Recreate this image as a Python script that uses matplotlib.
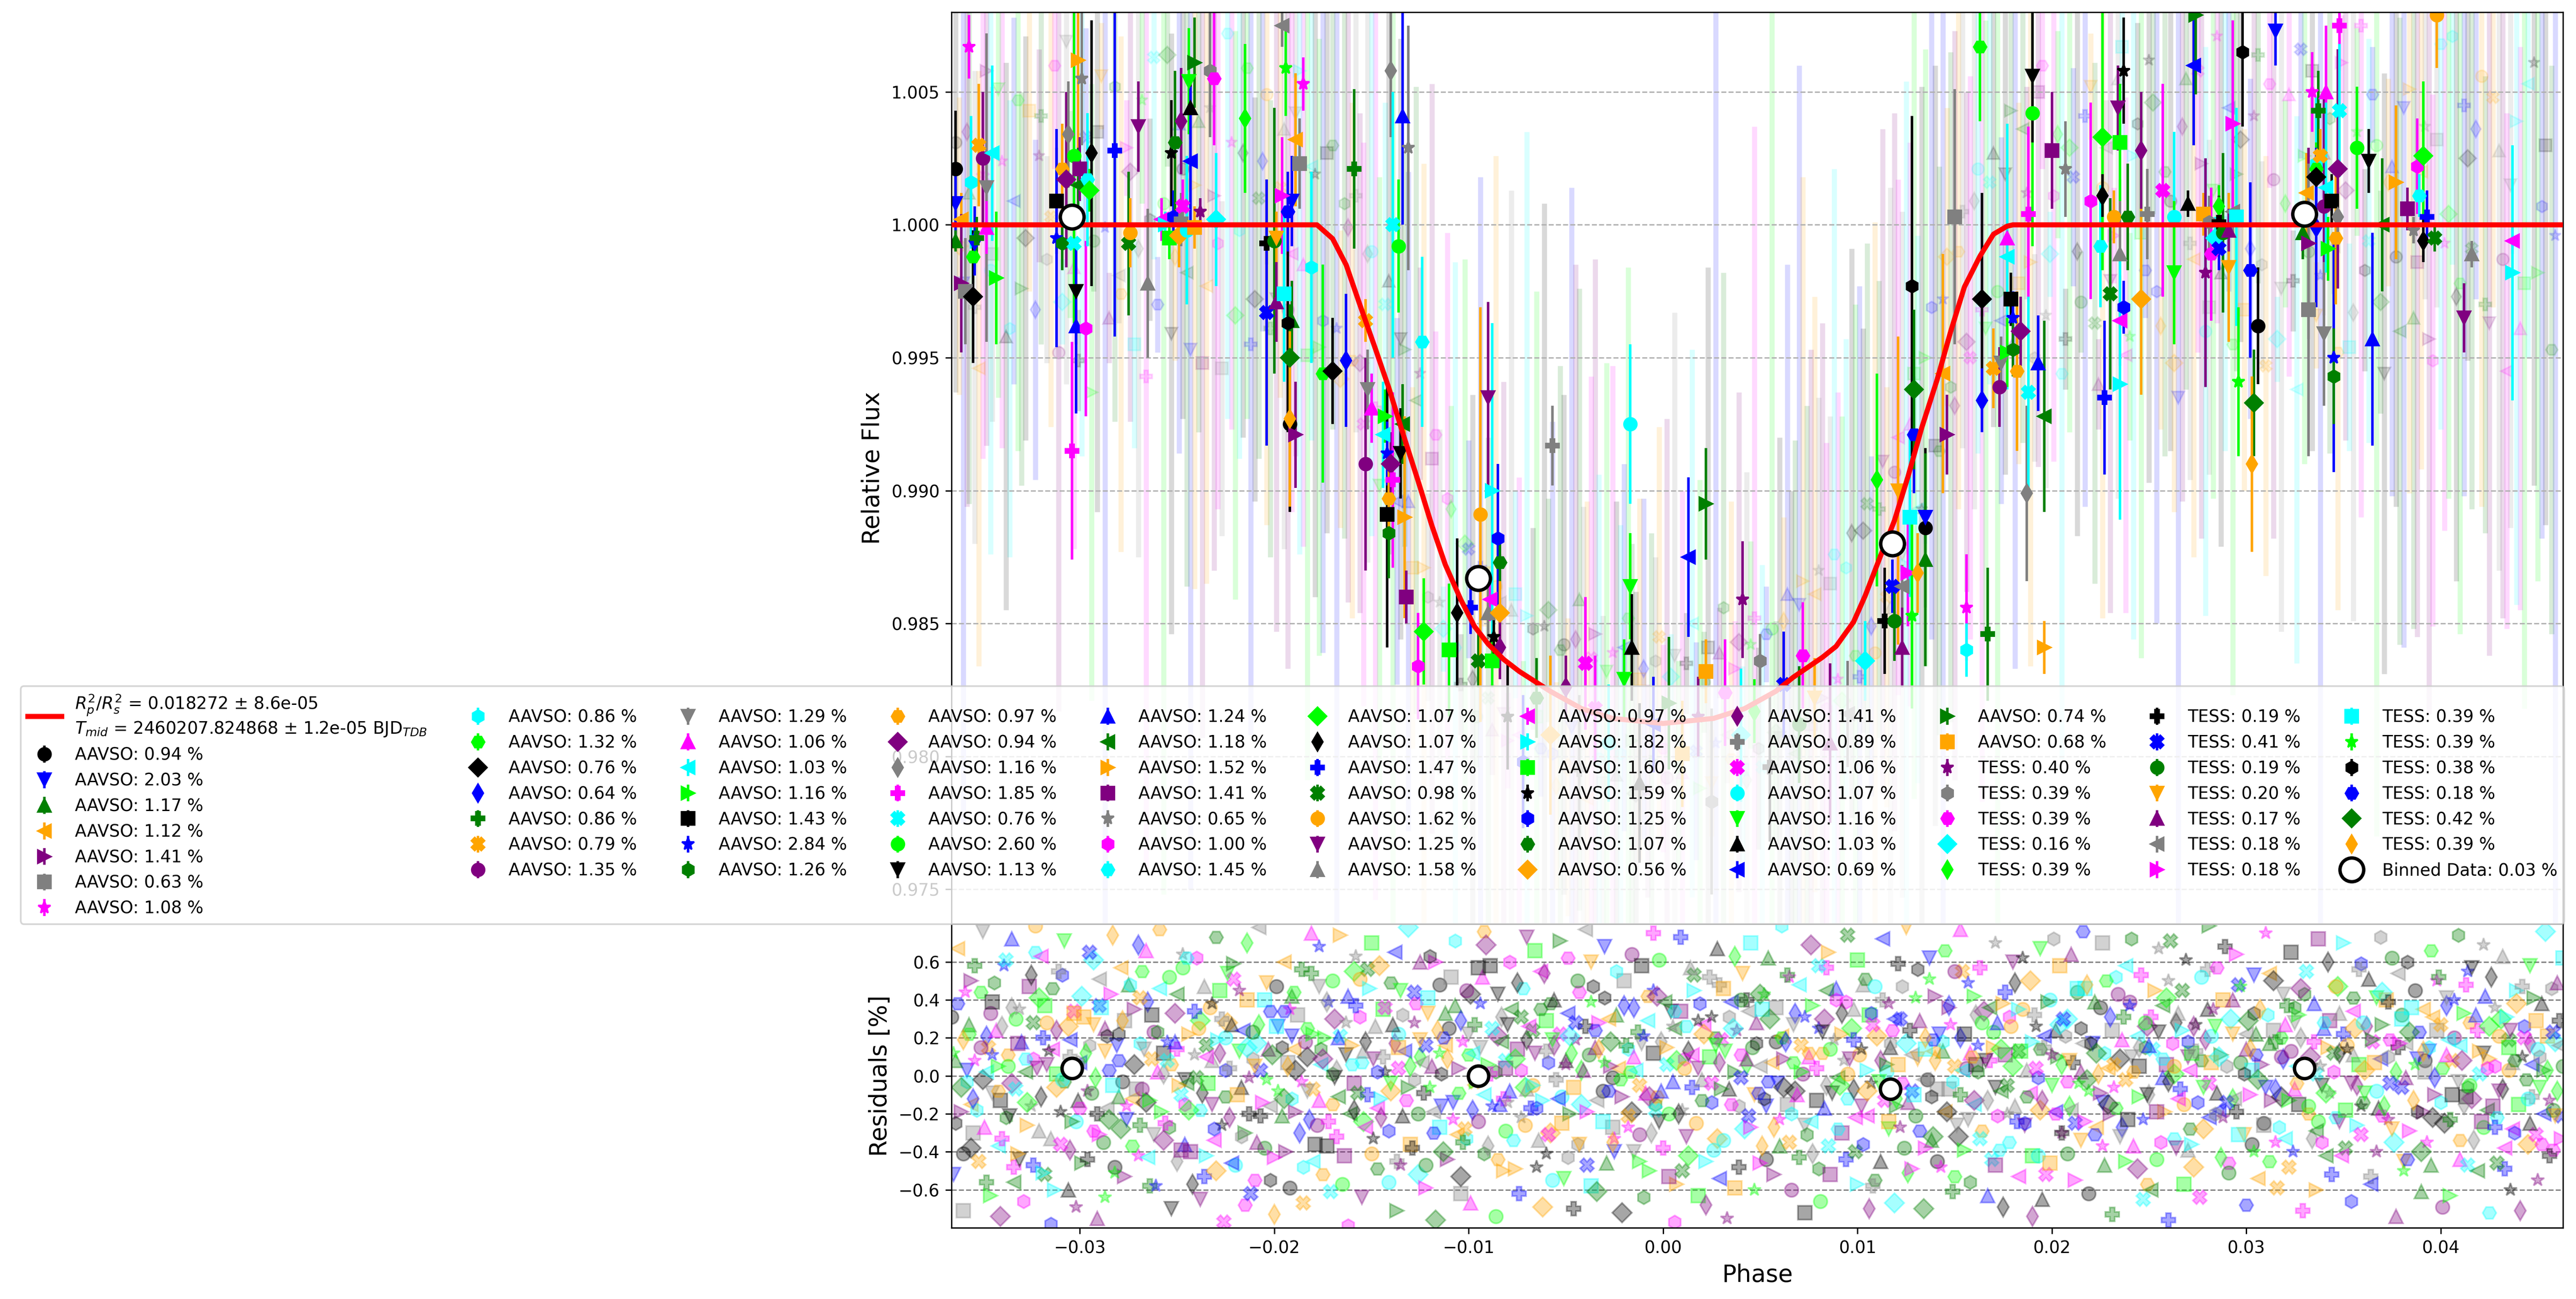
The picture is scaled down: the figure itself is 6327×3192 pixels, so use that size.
import numpy as np
import matplotlib
matplotlib.use("Agg")
import matplotlib.pyplot as plt

# transit model
model_phase = [-0.0366, -0.0178, -0.0170, -0.0163, -0.0156, -0.0148, -0.0141, -0.0134, -0.0126, -0.0119,
               -0.0112, -0.0104, -0.0097, -0.0090, -0.0082, -0.0074, -0.0058, -0.0042, -0.0026, 0.0,
               0.0026, 0.0042, 0.0058, 0.0067, 0.0082, 0.0089, 0.0098, 0.0104, 0.0111, 0.0119,
               0.0126, 0.0133, 0.0141, 0.0148, 0.0155, 0.0163, 0.0170, 0.0177, 0.0180, 0.0463]
model_flux = [1.0, 1.0, 0.99948, 0.99849, 0.99700, 0.99534, 0.99385, 0.99219, 0.99036, 0.98870,
              0.98721, 0.98589, 0.98489, 0.98423, 0.98365, 0.98320, 0.98245, 0.98180, 0.98143, 0.98124,
              0.98143, 0.98180, 0.98245, 0.98298, 0.98373, 0.98414, 0.98506, 0.98605, 0.98738, 0.98887,
              0.99053, 0.99235, 0.99418, 0.99600, 0.99766, 0.99882, 0.99965, 0.99995, 1.0, 1.0]
model_label = ("$R_{p}^{2}/R_{s}^{2}$ = 0.018272 ± 8.6e-05\n"
               "$T_{mid}$ = 2460207.824868 ± 1.2e-05 BJD$_{TDB}$")

# binned data of all observations
bin_phase = [-0.0304, -0.0095, 0.0118, 0.0330]
bin_flux = [1.0003, 0.9867, 0.9880, 1.0004]
bin_res_phase = [-0.0304, -0.0095, 0.0117, 0.0330]
bin_res = [0.04, 0.00, -0.07, 0.04]
bin_label = "Binned Data: 0.03 %"

# one entry per observation, legend order
sources = ["AAVSO"] * 58 + ["TESS"] * 18
scatter_pct = [0.94, 2.03, 1.17, 1.12, 1.41, 0.63, 1.08,
               0.86, 1.32, 0.76, 0.64, 0.86, 0.79, 1.35,
               1.29, 1.06, 1.03, 1.16, 1.43, 2.84, 1.26,
               0.97, 0.94, 1.16, 1.85, 0.76, 2.60, 1.13,
               1.24, 1.18, 1.52, 1.41, 0.65, 1.00, 1.45,
               1.07, 1.07, 1.47, 0.98, 1.62, 1.25, 1.58,
               0.97, 1.82, 1.60, 1.59, 1.25, 1.07, 0.56,
               1.41, 0.89, 1.06, 1.07, 1.16, 1.03, 0.69,
               0.74, 0.68, 0.40, 0.39, 0.39, 0.16, 0.39,
               0.19, 0.41, 0.19, 0.20, 0.17, 0.18, 0.18,
               0.39, 0.39, 0.38, 0.18, 0.42, 0.39]

# binned points of the single observations (bold markers)
obs_phase = [
    -0.0364, -0.0364, -0.0364, -0.0361, -0.0361, -0.0359, -0.0357, -0.0356, -0.0355, -0.0355,
    -0.0354, -0.0353, -0.0352, -0.0350, -0.0348, -0.0348, -0.0345, -0.0343, -0.0312, -0.0312,
    -0.0309, -0.0309, -0.0307, -0.0306, -0.0304, -0.0303, -0.0303, -0.0302, -0.0302, -0.0301,
    -0.0301, -0.0300, -0.0299, -0.0297, -0.0296, -0.0295, -0.0294, -0.0282, -0.0275, -0.0274,
    -0.0270, -0.0265, -0.0258, -0.0256, -0.0254, -0.0253, -0.0252, -0.0251, -0.0249, -0.0248,
    -0.0248, -0.0247, -0.0245, -0.0244, -0.0243, -0.0243, -0.0241, -0.0241, -0.0238, -0.0233,
    -0.0231, -0.0230, -0.0215, -0.0204, -0.0204, -0.0200, -0.0199, -0.0199, -0.0196, -0.0196,
    -0.0195, -0.0194, -0.0193, -0.0193, -0.0192, -0.0192, -0.0192, -0.0191, -0.0191, -0.0189,
    -0.0189, -0.0187,
    -0.0185, -0.0181, -0.0175, -0.0170, -0.0163, -0.0159, -0.0153, -0.0153, -0.0152, -0.0150,
    -0.0144, -0.0143, -0.0142, -0.0142, -0.0141, -0.0141, -0.0140, -0.0140, -0.0139, -0.0139,
    -0.0136, -0.0135, -0.0134, -0.0134, -0.0133, -0.0132, -0.0131, -0.0126, -0.0124, -0.0123,
    -0.0106, -0.0099, -0.0095, -0.0094, -0.0090, -0.0090, -0.0089, -0.0088, -0.0088, -0.0087,
    -0.0085, -0.0084, -0.0084, -0.0084, -0.0057, -0.0040, -0.0017, -0.0017, -0.0016, 0.0013,
    0.0022, 0.0022, 0.0041,
    0.0050, 0.0072, 0.0104, 0.0110, 0.0114, 0.0118, 0.0119, 0.0121, 0.0123, 0.0123,
    0.0126, 0.0127, 0.0128, 0.0128, 0.0129, 0.0129, 0.0131, 0.0135, 0.0135, 0.0135,
    0.0144, 0.0146, 0.0150, 0.0156, 0.0156, 0.0163, 0.0164, 0.0164, 0.0167, 0.0170,
    0.0173, 0.0174, 0.0177, 0.0177, 0.0177, 0.0179, 0.0180, 0.0180, 0.0182, 0.0184,
    0.0187, 0.0188, 0.0188, 0.0190, 0.0190, 0.0193, 0.0196, 0.0196, 0.0200, 0.0207,
    0.0220, 0.0225, 0.0226, 0.0226, 0.0227, 0.0230, 0.0232, 0.0234, 0.0235, 0.0235,
    0.0235, 0.0235, 0.0237, 0.0237, 0.0239, 0.0246, 0.0246, 0.0249, 0.0257, 0.0263,
    0.0263, 0.0270, 0.0273,
    0.0274, 0.0278, 0.0279, 0.0281, 0.0282, 0.0284, 0.0286, 0.0286, 0.0286, 0.0288,
    0.0291, 0.0291, 0.0293, 0.0293, 0.0295, 0.0296, 0.0298, 0.0302, 0.0304, 0.0303,
    0.0306, 0.0315, 0.0329, 0.0331, 0.0332, 0.0332, 0.0334, 0.0336, 0.0336, 0.0336,
    0.0336, 0.0337, 0.0338, 0.0340, 0.0340, 0.0341, 0.0341, 0.0342, 0.0344, 0.0345,
    0.0345, 0.0346, 0.0347, 0.0347, 0.0348, 0.0348, 0.0357, 0.0363, 0.0365, 0.0370,
    0.0377, 0.0383, 0.0386, 0.0388, 0.0389, 0.0391, 0.0391, 0.0393, 0.0397, 0.0398,
    0.0412, 0.0416, 0.0437, 0.0437,
    -0.0110, -0.0080, -0.0072, -0.0065, -0.0058, -0.0050, -0.0043, -0.0035, -0.0028, -0.0020,
    -0.0012, -0.0005, 0.0003, 0.0010, 0.0018, 0.0025, 0.0032, 0.0040, 0.0047, 0.0055,
    0.0062, 0.0070, 0.0078, 0.0086, 0.0095,
]
obs_flux = [
    1.0021, 1.0008, 0.9994, 1.0002, 0.9978, 0.9975, 1.0067, 1.0016, 0.9988, 0.9973,
    0.9994, 0.9995, 1.0030, 1.0025, 1.0014, 0.9999, 1.0027, 0.9980, 1.0009, 0.9995,
    0.9993, 1.0021, 1.0017, 1.0034, 0.9915, 0.9993, 1.0026, 0.9975, 0.9962, 1.0015,
    1.0062, 1.0021, 1.0055, 0.9961, 1.0017, 1.0013, 1.0027, 1.0028, 0.9993, 0.9997,
    1.0037, 0.9978, 1.0002, 1.0000, 0.9995, 1.0027, 1.0003, 1.0031, 0.9996, 1.0039,
    1.0002, 1.0007, 0.9998, 1.0054, 1.0044, 1.0024, 1.0061, 0.9999, 1.0005, 1.0058,
    1.0055, 1.0002, 1.0040, 0.9993, 0.9967, 0.9994, 0.9995, 0.9971, 1.0075, 1.0011,
    0.9974, 1.0059, 0.9963, 1.0005, 0.9950, 0.9927, 0.9925, 1.0009, 0.9964, 1.0032,
    0.9921, 1.0023,
    1.0053, 0.9984, 0.9944, 0.9945, 0.9949, 1.0021, 0.9964, 0.9910, 0.9938, 0.9931,
    0.9921, 0.9928, 0.9891, 0.9914, 0.9884, 0.9897, 0.9910, 1.0058, 0.9904, 1.0000,
    0.9992, 0.9914, 1.0041, 0.9925, 0.9890, 0.9860, 1.0029, 0.9834, 0.9956, 0.9847,
    0.9854, 0.9856, 0.9836, 0.9891, 0.9935, 0.9854, 0.9859, 0.9900, 0.9836, 0.9845,
    0.9882, 0.9873, 0.9854, 0.9841, 0.9917, 0.9835, 0.9925, 0.9864, 0.9841, 0.9875,
    0.9895, 0.9832, 0.9859,
    0.9836, 0.9838, 0.9836, 0.9904, 0.9851, 0.9864, 0.9851, 0.9900, 0.9841, 0.9864,
    0.9869, 0.9890, 0.9853, 0.9977, 0.9921, 0.9938, 0.9869, 0.9886, 0.9890, 0.9874,
    0.9944, 0.9921, 1.0003, 0.9856, 0.9840, 1.0067, 0.9972, 0.9934, 0.9846, 0.9946,
    0.9939, 0.9948, 0.9995, 0.9988, 0.9952, 0.9972, 0.9965, 0.9953, 0.9945, 0.9960,
    0.9899, 1.0004, 0.9937, 1.0042, 1.0056, 0.9948, 0.9928, 0.9841, 1.0028, 1.0021,
    1.0009, 0.9992, 1.0033, 1.0011, 0.9935, 0.9974, 1.0003, 1.0044, 0.9989, 0.9964,
    0.9940, 1.0031, 1.0058, 0.9969, 1.0003, 0.9972, 1.0028, 1.0004, 1.0013, 1.0003,
    0.9982, 1.0008, 1.0060,
    1.0079, 1.0004, 0.9982, 1.0001, 0.9989, 0.9995, 1.0007, 1.0001, 0.9991, 0.9997,
    0.9984, 0.9998, 1.0005, 1.0038, 1.0003, 0.9941, 1.0065, 0.9983, 0.9933, 0.9910,
    0.9962, 1.0073, 0.9997, 1.0012, 0.9993, 0.9968, 1.0050, 1.0023, 1.0021, 1.0018,
    0.9999, 1.0043, 1.0026, 1.0007, 0.9959, 1.0050, 1.0014, 0.9991, 1.0009, 0.9950,
    0.9943, 0.9995, 1.0021, 1.0003, 1.0075, 1.0043, 1.0029, 1.0024, 0.9957, 1.0000,
    1.0016, 1.0006, 0.9998, 1.0022, 1.0011, 1.0026, 0.9994, 1.0003, 0.9995, 1.0079,
    0.9965, 0.9989, 0.9994, 0.9982,
    0.9840, 0.9815, 0.9798, 0.9822, 0.9808, 0.9826, 0.9795, 0.9818, 0.9805, 0.9829,
    0.9790, 0.9812, 0.9820, 0.9801, 0.9815, 0.9783, 0.9824, 0.9808, 0.9817, 0.9796,
    0.9827, 0.9812, 0.9822, 0.9805, 0.9816,
]
obs_err = [
    0.0022, 0.0015, 0.0004, 0.0010, 0.0026, 0.0020, 0.0012, 0.0025, 0.0010, 0.0025,
    0.0013, 0.0008, 0.0023, 0.0025, 0.0058, 0.0010, 0.0033, 0.0025, 0.0020, 0.0041,
    0.0010, 0.0017, 0.0033, 0.0020, 0.0041, 0.0033, 0.0063, 0.0020, 0.0033, 0.0015,
    0.0033, 0.0012, 0.0025, 0.0033, 0.0025, 0.0008, 0.0050, 0.0070, 0.0027, 0.0013,
    0.0017, 0.0028, 0.0008, 0.0005, 0.0008, 0.0020, 0.0010, 0.0027, 0.0012, 0.0020,
    0.0010, 0.0010, 0.0028, 0.0020, 0.0012, 0.0028, 0.0017, 0.0008, 0.0005, 0.0025,
    0.0025, 0.0025, 0.0028, 0.0008, 0.0050, 0.0050, 0.0010, 0.0015, 0.0008, 0.0022,
    0.0033, 0.0018, 0.0041, 0.0015, 0.0020, 0.0033, 0.0033, 0.0017, 0.0015, 0.0025,
    0.0020, 0.0017,
    0.0010, 0.0036, 0.0041, 0.0020, 0.0025, 0.0030, 0.0008, 0.0040, 0.0015, 0.0013,
    0.0020, 0.0010, 0.0050, 0.0012, 0.0017, 0.0015, 0.0012, 0.0025, 0.0033, 0.0050,
    0.0025, 0.0017, 0.0041, 0.0015, 0.0038, 0.0010, 0.0046, 0.0020, 0.0032, 0.0020,
    0.0028, 0.0010, 0.0010, 0.0078, 0.0036, 0.0010, 0.0008, 0.0063, 0.0010, 0.0010,
    0.0028, 0.0010, 0.0012, 0.0012, 0.0015, 0.0025, 0.0030, 0.0020, 0.0020, 0.0030,
    0.0021, 0.0012, 0.0022,
    0.0010, 0.0020, 0.0015, 0.0040, 0.0020, 0.0010, 0.0015, 0.0058, 0.0015, 0.0008,
    0.0020, 0.0030, 0.0035, 0.0064, 0.0022, 0.0030, 0.0015, 0.0030, 0.0010, 0.0040,
    0.0045, 0.0015, 0.0048, 0.0020, 0.0010, 0.0028, 0.0040, 0.0012, 0.0025, 0.0015,
    0.0015, 0.0010, 0.0025, 0.0050, 0.0013, 0.0010, 0.0010, 0.0010, 0.0030, 0.0013,
    0.0033, 0.0033, 0.0036, 0.0050, 0.0025, 0.0018, 0.0036, 0.0010, 0.0022, 0.0018,
    0.0037, 0.0023, 0.0050, 0.0008, 0.0029, 0.0036, 0.0010, 0.0016, 0.0028, 0.0017,
    0.0051, 0.0022, 0.0020, 0.0010, 0.0020, 0.0036, 0.0022, 0.0017, 0.0040, 0.0032,
    0.0027, 0.0005, 0.0030,
    0.0030, 0.0008, 0.0043, 0.0010, 0.0025, 0.0008, 0.0008, 0.0010, 0.0008, 0.0030,
    0.0028, 0.0008, 0.0008, 0.0039, 0.0041, 0.0028, 0.0028, 0.0033, 0.0020, 0.0033,
    0.0022, 0.0013, 0.0010, 0.0015, 0.0036, 0.0055, 0.0015, 0.0025, 0.0010, 0.0010,
    0.0030, 0.0015, 0.0010, 0.0041, 0.0027, 0.0025, 0.0032, 0.0012, 0.0010, 0.0043,
    0.0018, 0.0025, 0.0045, 0.0008, 0.0017, 0.0025, 0.0023, 0.0012, 0.0040, 0.0025,
    0.0029, 0.0008, 0.0005, 0.0018, 0.0008, 0.0028, 0.0008, 0.0010, 0.0005, 0.0020,
    0.0013, 0.0005, 0.0005, 0.0048,
    0.0025, 0.0020, 0.0025, 0.0015, 0.0030, 0.0012, 0.0028, 0.0020, 0.0022, 0.0015,
    0.0030, 0.0018, 0.0025, 0.0020, 0.0015, 0.0035, 0.0020, 0.0025, 0.0012, 0.0028,
    0.0020, 0.0022, 0.0015, 0.0030, 0.0020,
]

# raw detrended points (faint background)
raw_phase = [
    -0.0364, -0.0360, -0.0357, -0.0352, -0.0348, -0.0345, -0.0340, -0.0336, -0.0332, -0.0328,
    -0.0323, -0.0320, -0.0315, -0.0311, -0.0307, -0.0303, -0.0299, -0.0294, -0.0291, -0.0287,
    -0.0282, -0.0279, -0.0274, -0.0270, -0.0266, -0.0262, -0.0257, -0.0253, -0.0249, -0.0245,
    -0.0241, -0.0237, -0.0233, -0.0229, -0.0224, -0.0220, -0.0216, -0.0212, -0.0208, -0.0204,
    -0.0199, -0.0195, -0.0191, -0.0187, -0.0183, -0.0179, -0.0175, -0.0170, -0.0166, -0.0162,
    -0.0158, -0.0154, -0.0150, -0.0146, -0.0141, -0.0137, -0.0133, -0.0129, -0.0125, -0.0121,
    -0.0117, -0.0113, -0.0109, -0.0104, -0.0100, -0.0096, -0.0092, -0.0088, -0.0084, -0.0080,
    -0.0076, -0.0072, -0.0067, -0.0063, -0.0059, -0.0055, -0.0051, -0.0047, -0.0043, -0.0039,
    -0.0035, -0.0031, -0.0026, -0.0022, -0.0018, -0.0014, -0.0010, -0.0006, -0.0002, 0.0002,
    0.0006, 0.0010, 0.0015, 0.0019, 0.0023, 0.0027, 0.0031, 0.0035, 0.0039, 0.0043,
    0.0047, 0.0051, 0.0056, 0.0060, 0.0064, 0.0068, 0.0072, 0.0076, 0.0080, 0.0084,
    0.0088, 0.0092, 0.0097, 0.0101, 0.0105, 0.0109, 0.0113, 0.0117, 0.0121, 0.0125,
    0.0129, 0.0133, 0.0138, 0.0142, 0.0146, 0.0150, 0.0154, 0.0158, 0.0162, 0.0166,
    0.0170, 0.0174, 0.0179, 0.0183, 0.0187, 0.0191, 0.0195, 0.0199, 0.0203, 0.0207,
    0.0211, 0.0215, 0.0220, 0.0224, 0.0228, 0.0232, 0.0236, 0.0240, 0.0244, 0.0248,
    0.0252, 0.0256, 0.0261, 0.0265, 0.0269, 0.0273, 0.0277, 0.0281, 0.0285, 0.0289,
    0.0293, 0.0297, 0.0302, 0.0306, 0.0310, 0.0314, 0.0318, 0.0322, 0.0326, 0.0330,
    0.0334, 0.0338, 0.0343, 0.0347, 0.0351, 0.0355, 0.0359, 0.0363, 0.0367, 0.0371,
    0.0375, 0.0379, 0.0384, 0.0388, 0.0392, 0.0396, 0.0400, 0.0404, 0.0408, 0.0412,
    0.0416, 0.0421, 0.0425, 0.0430, 0.0434, 0.0439, 0.0443, 0.0448, 0.0452, 0.0457,
    -0.0362, -0.0358, -0.0354, -0.0350, -0.0346, -0.0342, -0.0338, -0.0334, -0.0330, -0.0326,
    -0.0321, -0.0317, -0.0313, -0.0309, -0.0305, -0.0301, -0.0297, -0.0293, -0.0289, -0.0285,
    -0.0280, -0.0276, -0.0272, -0.0268, -0.0264, -0.0260, -0.0255, -0.0251, -0.0247, -0.0243,
    -0.0239, -0.0235, -0.0231, -0.0227, -0.0222, -0.0218, -0.0214, -0.0210, -0.0206, -0.0202,
    -0.0197, -0.0193, -0.0189, -0.0185, -0.0181, -0.0177, -0.0173, -0.0168, -0.0164, -0.0160,
    -0.0156, -0.0152, -0.0148, -0.0143, -0.0139, -0.0135, -0.0131, -0.0127, -0.0123, -0.0119,
    -0.0115, -0.0111, -0.0107, -0.0102, -0.0098, -0.0094, -0.0090, -0.0086, -0.0082, -0.0078,
    -0.0074, -0.0070, -0.0065, -0.0061, -0.0057, -0.0053, -0.0049, -0.0045, -0.0041, -0.0037,
    -0.0033, -0.0029, -0.0024, -0.0020, -0.0016, -0.0012, -0.0008, -0.0004, 0.0000, 0.0004,
    0.0008, 0.0012, 0.0017, 0.0021, 0.0025, 0.0029, 0.0033, 0.0037, 0.0041, 0.0045,
    0.0049, 0.0053, 0.0058, 0.0062, 0.0066, 0.0070, 0.0074, 0.0078, 0.0082, 0.0086,
    0.0090, 0.0094, 0.0099, 0.0103, 0.0107, 0.0111, 0.0115, 0.0119, 0.0123, 0.0127,
    0.0131, 0.0135, 0.0140, 0.0144, 0.0148, 0.0152, 0.0156, 0.0160, 0.0164, 0.0168,
    0.0172, 0.0176, 0.0181, 0.0185, 0.0189, 0.0193, 0.0197, 0.0201, 0.0205, 0.0209,
    0.0213, 0.0217, 0.0222, 0.0226, 0.0230, 0.0234, 0.0238, 0.0242, 0.0246, 0.0250,
    0.0254, 0.0258, 0.0263, 0.0267, 0.0271, 0.0275, 0.0279, 0.0283, 0.0287, 0.0291,
    0.0295, 0.0299, 0.0304, 0.0308, 0.0312, 0.0316, 0.0320, 0.0324, 0.0328, 0.0332,
    0.0336, 0.0340, 0.0345, 0.0349, 0.0353, 0.0357, 0.0361, 0.0365, 0.0369, 0.0373,
    0.0377, 0.0381, 0.0386, 0.0390, 0.0394, 0.0398, 0.0402, 0.0406, 0.0410, 0.0414,
    0.0418, 0.0423, 0.0427, 0.0432, 0.0436, 0.0441, 0.0445, 0.0450, 0.0454, 0.0459,
]
raw_flux = [
    1.0031, 0.9978, 1.0012, 0.9946, 1.0058, 0.9989, 1.0024, 0.9961, 1.0047, 0.9995,
    0.9968, 1.0041, 1.0003, 0.9952, 1.0069, 0.9984, 1.0016, 0.9937, 1.0035, 0.9999,
    1.0052, 0.9974, 1.0020, 0.9991, 0.9943, 1.0063, 1.0008, 0.9959, 1.0038, 0.9982,
    1.0015, 0.9948, 1.0044, 0.9993, 1.0072, 0.9966, 1.0027, 0.9955, 1.0010, 1.0049,
    0.9972, 1.0036, 0.9989, 1.0058, 0.9951, 1.0019, 0.9964, 1.0030, 0.9942, 0.9999,
    1.0011, 0.9925, 0.9990, 0.9902, 0.9979, 0.9896, 0.9953, 0.9871, 0.9944, 0.9860,
    0.9921, 0.9848, 0.9893, 0.9827, 0.9878, 0.9815, 0.9869, 0.9810, 0.9858, 0.9806,
    0.9861, 0.9797, 0.9848, 0.9803, 0.9855, 0.9789, 0.9842, 0.9811, 0.9859, 0.9784,
    0.9846, 0.9790, 0.9839, 0.9801, 0.9852, 0.9786, 0.9833, 0.9798, 0.9845, 0.9792,
    0.9838, 0.9794, 0.9850, 0.9788, 0.9841, 0.9805, 0.9856, 0.9799, 0.9843, 0.9791,
    0.9852, 0.9796, 0.9848, 0.9807, 0.9861, 0.9801, 0.9866, 0.9812, 0.9870, 0.9818,
    0.9876, 0.9821, 0.9884, 0.9830, 0.9895, 0.9839, 0.9911, 0.9856, 0.9920, 0.9872,
    0.9944, 0.9893, 0.9969, 0.9915, 0.9988, 0.9932, 1.0005, 0.9950, 1.0021, 0.9961,
    1.0027, 0.9964, 1.0043, 0.9978, 1.0012, 0.9950, 1.0060, 0.9989, 1.0034, 0.9957,
    1.0018, 0.9971, 1.0052, 0.9940, 1.0029, 0.9996, 1.0067, 0.9958, 1.0038, 0.9983,
    1.0046, 0.9962, 1.0009, 0.9935, 1.0055, 0.9987, 1.0023, 0.9969, 1.0071, 1.0001,
    0.9955, 1.0032, 0.9991, 1.0064, 0.9947, 1.0017, 0.9976, 1.0049, 0.9938, 1.0026,
    1.0058, 0.9981, 1.0040, 0.9952, 1.0013, 0.9967, 1.0075, 0.9994, 1.0030, 0.9944,
    1.0022, 0.9960, 1.0051, 0.9986, 1.0037, 0.9949, 1.0068, 1.0004, 0.9973, 1.0045,
    0.9991, 1.0056, 0.9963, 1.0028, 0.9945, 1.0039, 0.9978, 1.0061, 1.0007, 0.9953,
    0.9992, 1.0035, 0.9969, 1.0018, 0.9983, 1.0051, 0.9958, 1.0009, 0.9976, 1.0043,
    1.0026, 0.9987, 1.0060, 0.9971, 1.0004, 0.9949, 1.0033, 0.9994, 1.0056, 0.9965,
    0.9981, 1.0029, 0.9955, 1.0047, 1.0002, 0.9970, 1.0064, 0.9988, 1.0021, 0.9953,
    1.0039, 0.9977, 1.0011, 0.9946, 1.0031, 0.9998, 1.0059, 0.9972, 1.0024, 0.9961,
    1.0014, 0.9968, 1.0042, 0.9985, 1.0022, 0.9954, 1.0027, 0.9961, 1.0008, 0.9949,
    0.9948, 0.9989, 0.9931, 0.9970, 0.9912, 0.9957, 0.9896, 0.9934, 0.9871, 0.9912,
    0.9858, 0.9897, 0.9841, 0.9880, 0.9829, 0.9871, 0.9822, 0.9864, 0.9816, 0.9855,
    0.9808, 0.9853, 0.9815, 0.9849, 0.9801, 0.9840, 0.9796, 0.9844, 0.9805, 0.9837,
    0.9799, 0.9832, 0.9793, 0.9841, 0.9806, 0.9829, 0.9787, 0.9836, 0.9803, 0.9830,
    0.9797, 0.9835, 0.9802, 0.9828, 0.9790, 0.9839, 0.9808, 0.9833, 0.9795, 0.9842,
    0.9803, 0.9846, 0.9809, 0.9851, 0.9806, 0.9857, 0.9815, 0.9861, 0.9822, 0.9865,
    0.9829, 0.9871, 0.9838, 0.9885, 0.9849, 0.9893, 0.9860, 0.9907, 0.9876, 0.9925,
    0.9893, 0.9950, 0.9917, 0.9972, 0.9939, 0.9990, 0.9956, 1.0009, 0.9968, 1.0016,
    0.9975, 1.0019, 0.9957, 1.0036, 0.9986, 1.0050, 0.9966, 1.0011, 0.9944, 1.0029,
    0.9990, 1.0041, 0.9963, 1.0014, 0.9979, 1.0055, 0.9951, 1.0026, 0.9997, 1.0062,
    0.9975, 1.0020, 0.9948, 1.0037, 0.9993, 1.0058, 0.9960, 1.0013, 0.9982, 1.0044,
    1.0019, 0.9968, 1.0041, 0.9985, 1.0053, 0.9957, 1.0008, 0.9979, 1.0066, 0.9990,
    0.9966, 1.0027, 0.9992, 1.0061, 0.9954, 1.0035, 0.9983, 1.0049, 0.9971, 1.0016,
    0.9988, 1.0044, 0.9965, 1.0020, 0.9957, 1.0032, 0.9993, 1.0071, 0.9978, 1.0025,
    1.0036, 0.9970, 1.0048, 0.9987, 1.0015, 0.9961, 1.0053, 0.9982, 1.0030, 0.9996,
]

# residuals of the raw points: phase in units of 1e-4, residual in units of 0.01 %
res_phase_e4 = [
    -366, -365, -364, -363, -361, -360, -359, -358, -357, -356,
    -355, -354, -352, -351, -350, -349, -348, -346, -345, -345,
    -344, -342, -341, -340, -340, -338, -337, -336, -335, -334,
    -332, -332, -331, -329, -328, -327, -325, -324, -324, -323,
    -322, -321, -320, -319, -318, -316, -315, -314, -312, -312,
    -311, -310, -309, -308, -306, -305, -304, -303, -302, -301,
    -300, -299, -297, -296, -295, -294, -293, -291, -290, -290,
    -289, -287, -286, -285, -285, -283, -282, -281, -280, -279,
    -277, -277, -276, -274, -273, -272, -270, -269, -269, -268,
    -267, -266, -265, -264, -263, -261, -260, -259, -257, -257,
    -256, -255, -254, -253, -251, -250, -249, -248, -247, -246,
    -245, -244, -242, -241, -240, -239, -238, -236, -235, -235,
    -234, -232, -231, -230, -230, -228, -227, -226, -225, -224,
    -222, -222, -221, -219, -218, -217, -215, -214, -214, -213,
    -212, -211, -210, -209, -208, -206, -205, -204, -202, -202,
    -201, -200, -199, -198, -196, -195, -194, -193, -192, -191,
    -190, -189, -187, -186, -185, -184, -183, -181, -180, -180,
    -179, -177, -176, -175, -175, -173, -172, -171, -170, -169,
    -167, -167, -166, -164, -163, -162, -160, -159, -159, -158,
    -157, -156, -155, -154, -153, -151, -150, -149, -147, -147,
    -146, -145, -144, -143, -141, -140, -139, -138, -137, -136,
    -135, -134, -132, -131, -130, -129, -128, -126, -125, -125,
    -124, -122, -121, -120, -120, -118, -117, -116, -115, -114,
    -112, -112, -111, -109, -108, -107, -105, -104, -104, -103,
    -102, -101, -100, -99, -98, -96, -95, -94, -92, -92,
    -91, -90, -89, -88, -86, -85, -84, -83, -82, -81,
    -80, -79, -77, -76, -75, -74, -73, -71, -70, -70,
    -69, -67, -66, -65, -65, -63, -62, -61, -60, -59,
    -57, -57, -56, -54, -53, -52, -50, -49, -49, -48,
    -47, -46, -45, -44, -43, -41, -40, -39, -37, -37,
    -36, -35, -34, -33, -31, -30, -29, -28, -27, -26,
    -25, -24, -22, -21, -20, -19, -18, -16, -15, -15,
    -14, -12, -11, -10, -10, -8, -7, -6, -5, -4,
    -2, -2, -1, 1, 2, 3, 5, 6, 6, 7,
    8, 9, 10, 11, 12, 14, 15, 16, 18, 18,
    19, 20, 21, 22, 24, 25, 26, 27, 28, 29,
    30, 31, 33, 34, 35, 36, 37, 39, 40, 40,
    41, 43, 44, 45, 45, 47, 48, 49, 50, 51,
    53, 53, 54, 56, 57, 58, 60, 61, 61, 62,
    63, 64, 65, 66, 67, 69, 70, 71, 73, 73,
    74, 75, 76, 77, 79, 80, 81, 82, 83, 84,
    85, 86, 88, 89, 90, 91, 92, 94, 95, 95,
    96, 98, 99, 100, 100, 102, 103, 104, 105, 106,
    108, 108, 109, 111, 112, 113, 115, 116, 116, 117,
    118, 119, 120, 121, 122, 124, 125, 126, 128, 128,
    129, 130, 131, 132, 134, 135, 136, 137, 138, 139,
    140, 141, 143, 144, 145, 146, 147, 149, 150, 150,
    151, 153, 154, 155, 155, 157, 158, 159, 160, 161,
    163, 163, 164, 166, 167, 168, 170, 171, 171, 172,
    173, 174, 175, 176, 177, 179, 180, 181, 183, 183,
    184, 185, 186, 187, 189, 190, 191, 192, 193, 194,
    195, 196, 198, 199, 200, 201, 202, 204, 205, 205,
    206, 208, 209, 210, 210, 212, 213, 214, 215, 216,
    218, 218, 219, 221, 222, 223, 225, 226, 226, 227,
    228, 229, 230, 231, 232, 234, 235, 236, 238, 238,
    239, 240, 241, 242, 244, 245, 246, 247, 248, 249,
    250, 251, 253, 254, 255, 256, 257, 259, 260, 260,
    261, 263, 264, 265, 265, 267, 268, 269, 270, 271,
    273, 273, 274, 276, 277, 278, 280, 281, 281, 282,
    283, 284, 285, 286, 287, 289, 290, 291, 293, 293,
    294, 295, 296, 297, 299, 300, 301, 302, 303, 304,
    305, 306, 308, 309, 310, 311, 312, 314, 315, 315,
    316, 318, 319, 320, 320, 322, 323, 324, 325, 326,
    328, 328, 329, 331, 332, 333, 335, 336, 336, 337,
    338, 339, 340, 341, 342, 344, 345, 346, 348, 348,
    349, 350, 351, 352, 354, 355, 356, 357, 358, 359,
    360, 361, 363, 364, 365, 366, 367, 369, 370, 370,
    371, 373, 374, 375, 375, 377, 378, 379, 380, 381,
    383, 383, 384, 386, 387, 388, 390, 391, 391, 392,
    393, 394, 395, 396, 397, 399, 400, 401, 403, 403,
    404, 405, 406, 407, 409, 410, 411, 412, 413, 414,
    415, 416, 418, 419, 420, 421, 422, 424, 425, 425,
    426, 428, 429, 430, 430, 432, 433, 434, 435, 436,
    438, 438, 439, 441, 442, 443, 445, 446, 446, 447,
    448, 449, 450, 451, 452, 454, 455, 456, 458, 458,
    459, 460, 461, 462, 463,
    -365, -364, -363, -361, -360, -360, -358, -357, -356, -356,
    -355, -354, -353, -351, -350, -348, -348, -347, -346, -345,
    -343, -342, -342, -341, -339, -338, -337, -335, -335, -334,
    -333, -333, -331, -330, -328, -327, -326, -325, -324, -323,
    -321, -320, -319, -318, -317, -317, -315, -314, -313, -312,
    -310, -309, -308, -306, -305, -305, -303, -302, -301, -301,
    -300, -299, -298, -296, -295, -293, -293, -292, -291, -290,
    -288, -287, -287, -286, -284, -283, -282, -280, -280, -279,
    -278, -278, -276, -275, -273, -272, -271, -270, -269, -268,
    -266, -265, -264, -263, -262, -262, -260, -259, -258, -257,
    -255, -254, -253, -251, -250, -250, -248, -247, -246, -246,
    -245, -244, -243, -241, -240, -238, -238, -237, -236, -235,
    -233, -232, -232, -231, -229, -228, -227, -225, -225, -224,
    -223, -223, -221, -220, -218, -217, -216, -215, -214, -213,
    -211, -210, -209, -208, -207, -207, -205, -204, -203, -202,
    -200, -199, -198, -196, -195, -195, -193, -192, -191, -191,
    -190, -189, -188, -186, -185, -183, -183, -182, -181, -180,
    -178, -177, -177, -176, -174, -173, -172, -170, -170, -169,
    -168, -168, -166, -165, -163, -162, -161, -160, -159, -158,
    -156, -155, -154, -153, -152, -152, -150, -149, -148, -147,
    -145, -144, -143, -141, -140, -140, -138, -137, -136, -136,
    -135, -134, -133, -131, -130, -128, -128, -127, -126, -125,
    -123, -122, -122, -121, -119, -118, -117, -115, -115, -114,
    -113, -113, -111, -110, -108, -107, -106, -105, -104, -103,
    -101, -100, -99, -98, -97, -97, -95, -94, -93, -92,
    -90, -89, -88, -86, -85, -85, -83, -82, -81, -81,
    -80, -79, -78, -76, -75, -73, -73, -72, -71, -70,
    -68, -67, -67, -66, -64, -63, -62, -60, -60, -59,
    -58, -58, -56, -55, -53, -52, -51, -50, -49, -48,
    -46, -45, -44, -43, -42, -42, -40, -39, -38, -37,
    -35, -34, -33, -31, -30, -30, -28, -27, -26, -26,
    -25, -24, -23, -21, -20, -18, -18, -17, -16, -15,
    -13, -12, -12, -11, -9, -8, -7, -5, -5, -4,
    -3, -3, -1, 0, 2, 3, 4, 5, 6, 7,
    9, 10, 11, 12, 13, 13, 15, 16, 17, 18,
    20, 21, 22, 24, 25, 25, 27, 28, 29, 29,
    30, 31, 32, 34, 35, 37, 37, 38, 39, 40,
    42, 43, 43, 44, 46, 47, 48, 50, 50, 51,
    52, 52, 54, 55, 57, 58, 59, 60, 61, 62,
    64, 65, 66, 67, 68, 68, 70, 71, 72, 73,
    75, 76, 77, 79, 80, 80, 82, 83, 84, 84,
    85, 86, 87, 89, 90, 92, 92, 93, 94, 95,
    97, 98, 98, 99, 101, 102, 103, 105, 105, 106,
    107, 107, 109, 110, 112, 113, 114, 115, 116, 117,
    119, 120, 121, 122, 123, 123, 125, 126, 127, 128,
    130, 131, 132, 134, 135, 135, 137, 138, 139, 139,
    140, 141, 142, 144, 145, 147, 147, 148, 149, 150,
    152, 153, 153, 154, 156, 157, 158, 160, 160, 161,
    162, 162, 164, 165, 167, 168, 169, 170, 171, 172,
    174, 175, 176, 177, 178, 178, 180, 181, 182, 183,
    185, 186, 187, 189, 190, 190, 192, 193, 194, 194,
    195, 196, 197, 199, 200, 202, 202, 203, 204, 205,
    207, 208, 208, 209, 211, 212, 213, 215, 215, 216,
    217, 217, 219, 220, 222, 223, 224, 225, 226, 227,
    229, 230, 231, 232, 233, 233, 235, 236, 237, 238,
    240, 241, 242, 244, 245, 245, 247, 248, 249, 249,
    250, 251, 252, 254, 255, 257, 257, 258, 259, 260,
    262, 263, 263, 264, 266, 267, 268, 270, 270, 271,
    272, 272, 274, 275, 277, 278, 279, 280, 281, 282,
    284, 285, 286, 287, 288, 288, 290, 291, 292, 293,
    295, 296, 297, 299, 300, 300, 302, 303, 304, 304,
    305, 306, 307, 309, 310, 312, 312, 313, 314, 315,
    317, 318, 318, 319, 321, 322, 323, 325, 325, 326,
    327, 327, 329, 330, 332, 333, 334, 335, 336, 337,
    339, 340, 341, 342, 343, 343, 345, 346, 347, 348,
    350, 351, 352, 354, 355, 355, 357, 358, 359, 359,
    360, 361, 362, 364, 365, 367, 367, 368, 369, 370,
    372, 373, 373, 374, 376, 377, 378, 380, 380, 381,
    382, 382, 384, 385, 387, 388, 389, 390, 391, 392,
    394, 395, 396, 397, 398, 398, 400, 401, 402, 403,
    405, 406, 407, 409, 410, 410, 412, 413, 414, 414,
    415, 416, 417, 419, 420, 422, 422, 423, 424, 425,
    427, 428, 428, 429, 431, 432, 433, 435, 435, 436,
    437, 437, 439, 440, 442, 443, 444, 445, 446, 447,
    449, 450, 451, 452, 453, 453, 455, 456, 457, 458,
    459, 460, 461, 462, 463,
]
res_val_e2 = [
    31, -52, 8, 67, -19, -71, 44, -3, 22, -38,
    -12, 58, -45, 15, 76, -27, 2, -63, 39, 11,
    49, -8, -74, 26, -33, 61, 5, -21, 72, -56,
    -41, 17, 35, -66, 9, -14, 53, -47, 28, 79,
    4, -29, 63, -51, 37, 13, -78, 46, -6, 24,
    55, -36, -2, 71, -60, 19, -24, 33, -69, 7,
    -17, 42, 12, -44, 65, -9, 27, -75, 51, -31,
    36, -64, 21, 3, -23, 74, -48, 16, -11, 57,
    -53, 29, -16, 48, -37, 6, 69, -26, 41, -7,
    14, 66, -43, -13, 32, -58, 23, 77, -34, 1,
    -25, 8, 52, -70, 18, 43, -5, -39, 64, -15,
    62, -18, -57, 34, -1, 25, -65, 47, 10, -42,
    -4, 38, -28, 73, -50, 12, 30, -77, 20, 54,
    27, -46, 59, -10, 45, -32, -68, 15, 70, -20,
    -62, 23, 5, -35, 78, -14, 40, -2, -55, 34,
    11, -73, 47, 26, -21, 60, -40, 7, 35, -12,
    44, 3, -30, 56, -67, 18, -8, 75, -45, 22,
    -36, 68, 14, -52, 9, 39, -24, -61, 50, -1,
    20, -11, 74, -42, 28, -79, 6, 55, -18, 37,
    -9, 51, -64, 13, -27, 46, 70, -33, 2, -49,
    58, -22, 10, 36, -56, -4, 27, 65, -71, 15,
    -47, 32, -13, 78, 5, -38, 44, -20, 19, 60,
    7, -59, 41, -6, 63, -30, -76, 24, 48, -16,
    33, 16, -44, 52, -23, 71, -9, -53, 29, -35,
    -28, 45, 22, -67, 12, -3, 57, 38, -41, 76,
    69, -37, 1, 25, -74, 43, -15, 18, -50, 4,
    -14, 60, -34, 9, 49, -62, 31, -26, 73, -7,
    26, -5, 66, -48, -17, 35, -69, 54, 13, -31,
    -55, 19, 40, -12, 71, -25, 6, -43, 62, 21,
    12, -70, 28, 50, -36, 3, 77, -19, -58, 39,
    47, 24, -61, 14, -8, 68, -46, 30, 5, -27,
    -33, 55, -2, -72, 37, 16, -21, 64, -40, 10,
    3, -45, 58, 21, -64, 42, -11, -30, 75, -18,
    61, -24, -8, 39, 15, -53, 26, -77, 34, 8,
    -20, 73, -50, 4, -32, 57, 11, 45, -63, 29,
    38, -13, 22, -68, 52, -4, -39, 16, 67, -54,
    -7, 46, -75, 31, -15, 25, 63, -48, -1, 40,
    54, 9, 34, -27, 70, -60, 17, -9, 43, -37,
    -44, -16, 62, 7, -52, 36, -23, 79, 20, -6,
    18, 53, -35, -60, 27, -10, 48, 2, -72, 31,
    -31, 12, 69, -41, 4, 58, -66, 23, -17, 45,
    65, -52, 19, 40, -28, -5, 33, -44, 74, 1,
    9, 35, -22, -57, 61, 14, -36, 51, -8, -70,
    -58, 27, 47, -3, -45, 72, 6, -24, 38, 17,
    24, -67, -12, 59, 30, -38, 78, -14, 11, -49,
    -10, 41, 56, -29, -70, 20, -2, 62, -34, 13,
    42, -7, -48, 18, 66, -19, 37, -61, 5, 55,
    -26, 77, 3, -39, 22, 49, -56, 10, -13, 32,
    57, -33, 28, 8, -63, 36, 15, -47, 70, -21,
    -39, 14, -69, 44, -5, 26, 60, -16, -53, 35,
    13, 62, -25, -11, 50, -74, 32, 4, -42, 67,
    -65, 21, 39, -46, 11, 72, -20, 27, 6, -30,
    30, -41, 8, 64, -18, -55, 46, -4, 25, 76,
    -2, 48, -62, 17, 39, -27, -9, 70, -37, 12,
    50, -15, 31, -73, 6, 43, -32, 19, 58, -45,
    -23, 37, 72, 2, -49, 15, 53, -65, 28, -10,
    16, -60, 45, -19, 67, -35, 9, 41, -3, -76,
    71, 5, -38, 33, -12, 24, -57, 61, 18, -28,
    -48, 26, 13, -64, 52, -6, 35, -22, 79, 7,
    35, -20, 57, 10, -43, 68, -14, -51, 22, 40,
    -12, 64, -31, 47, 1, -68, 29, 14, -36, 53,
    22, -54, 6, -26, 75, 32, -45, 50, -7, 18,
    -59, 10, 43, 27, -33, -13, 65, -40, 36, -4,
    46, 20, -71, 55, -16, 3, 38, -29, -60, 72,
    5, -35, 28, -9, 60, -52, 12, 47, -24, 33,
    -42, 70, -18, 14, -66, 41, 25, -5, 56, -31,
    28, -9, 51, -57, 19, 7, -40, 73, -21, 44,
    -16, 39, -4, 62, -28, -74, 54, 17, 30, -50,
    60, -44, 23, -13, 45, 9, -61, 35, -19, 2,
    -35, 15, 66, -22, -1, 52, 27, -69, 41, 11,
    19, -63, -10, 40, 74, -34, 8, -15, 48, -47,
    -5, 57, 32, -50, 13, -24, 69, 4, -72, 26,
    52, -27, -46, 21, -8, 63, -38, 31, 15, -60,
    -30, 8, 38, -71, 47, 20, -12, 58, -25, 6,
    41, 29, -55, 10, -36, 76, 3, -42, 23, -18,
    -21, 49, 16, -33, 62,
    12, -25, 38, -6, 19, -41, 3, 27, -15, 50,
    -30, 8, -18, 44, -2, 21, -56, 15, 33, -9,
    24, -37, 5, -13, 58, -22, 11, -4, 36, -48,
    -7, 30, -44, 18, 2, -26, 47, -16, 9, 65,
    41, -11, 20, -52, 28, 6, -33, 14, -60, 1,
    -19, 53, -3, 26, -39, 10, 34, -24, 4, -13,
    7, -46, 31, -8, 16, -29, 61, -1, -20, 37,
    -35, 13, 25, -17, 43, -5, -51, 22, 8, -28,
    29, -3, -23, 48, -12, 35, -7, -42, 17, 55,
    -14, 39, -58, 9, 23, -31, 2, 46, -19, 12,
    18, -27, 6, 33, -45, 14, -10, 57, -2, -36,
    -4, 22, -40, 11, 62, -18, 29, -9, -53, 16,
    36, -15, 8, -34, 19, 45, -26, 3, -11, 28,
    -22, 4, 51, -47, 13, -6, 24, -30, 40, -1,
    9, -55, 17, 27, -21, 3, -38, 49, 14, -16,
    -43, 26, -8, 15, 34, -12, 5, -59, 21, 42,
    14, -19, 32, -3, -48, 25, 10, -23, 54, -7,
    -26, 47, -13, 6, 20, -37, 39, 1, -15, 30,
    3, -32, 21, -57, 11, 42, -20, 16, -4, 63,
    31, 7, -24, 18, -10, 56, -41, 9, 26, -17,
    -12, 35, 2, -29, 49, -8, 17, -45, 4, 22,
    45, -21, 13, -6, -36, 28, -2, 38, -52, 10,
    -9, 16, -47, 33, 5, -19, 60, -27, 12, 1,
    20, -40, 9, 25, -14, 37, -31, 4, -62, 18,
    -33, 11, 43, -18, 27, -3, -24, 15, 52, -10,
    6, 58, -16, 2, -44, 21, 31, -12, 8, -29,
    27, -8, 35, -49, 14, -22, 3, 46, -6, 19,
    -17, 24, -5, 12, -34, 55, -13, 29, -41, 7,
    38, -30, 16, -2, 22, -11, -54, 8, 33, -20,
    -6, 19, -36, 44, -15, 3, 26, -47, 11, 60,
    15, -13, 28, -24, 7, 41, -8, 18, -35, -1,
    -40, 32, 4, -11, 50, -27, 14, 2, -19, 36,
    23, -5, -31, 17, -9, 29, -50, 12, 45, -15,
    -11, 42, 18, -38, 6, -20, 34, -3, 25, -57,
    34, -18, 9, 26, -42, 13, -6, 53, -25, 4,
    -2, 27, -45, 10, 31, -14, 20, -33, 7, 48,
    19, -34, 13, -7, 39, 2, -59, 24, -16, 11,
    -28, 6, 40, -21, 15, -10, 28, 5, -46, 35,
    43, -12, -3, 30, -27, 18, -4, -37, 21, 9,
    -15, 52, -20, 7, -8, 33, -43, 16, 1, -26,
    10, -24, 37, -13, 25, -49, 12, 30, -5, 57,
    -37, 14, -9, 46, -1, 22, -30, 8, 39, -12,
    25, -7, 19, -40, 11, -16, 48, -21, 3, 32,
    -4, 33, -55, 21, 8, 40, -13, 2, -28, 15,
    30, -16, 6, -27, 47, -4, 17, -51, 24, -8,
    -21, 9, 29, -2, -38, 14, 51, -11, 19, -32,
    8, -45, 22, 13, -19, 36, -7, 27, -3, -53,
    -32, 20, -10, 55, 4, -23, 12, -15, 42, 6,
    16, 2, -29, 34, -13, 8, -44, 23, -6, 28,
    -8, 38, 11, -20, 31, -35, 5, 49, -24, 13,
    35, -26, 3, -9, 18, -42, 26, -1, 14, -18,
    -13, 15, -52, 40, -5, 24, -19, 10, 58, -30,
    21, -3, 30, -16, 7, -25, 44, -34, 2, 17,
    -24, 46, -8, 17, -31, 12, 1, 36, -14, -47,
    4, -20, 24, -6, 52, -17, 9, -27, 31, -2,
    39, 10, -37, 21, -11, 5, -23, 15, -57, 26,
    -10, 31, 14, -44, 23, -1, 37, -19, 6, 50,
    17, -33, 1, 28, -7, 45, -15, 10, -39, 3,
    -36, 12, 27, -14, 8, -28, 19, 56, -4, 21,
    26, -9, -18, 11, 40, -22, 5, -46, 30, -12,
    -19, 48, 7, -31, 14, 22, -10, 3, -40, 33,
    11, -2, 35, -25, -6, 17, 54, -13, 24, -35,
    -27, 20, -11, 9, 37, -48, 13, 28, -7, 5,
    32, -15, 4, 43, -20, 10, -33, 18, 1, -24,
    -5, 25, -42, 15, 29, -9, 2, -22, 47, 12,
    22, -38, 16, -4, 11, 34, -26, 6, -16, 59,
    -14, 3, 26, -53, 18, -8, 41, -17, 9, 27,
    40, -23, 10, 19, -35, 2, 15, -6, 32, -45,
    -1, 17, -29, 36, 6, -19, 23, -40, 13, 8,
    13, -47, 31, -10, 24, 50, -14, 4, -25, 37,
    -23, 8, 20, -3, -44, 16, 33, -11, 55, -6,
    28, -12, -34, 24, 1, -27, 12, 42, -18, 9,
    -16, 36, 5, -22, 30, -7, -49, 19, 3, 24,
    7, -28, 45, -15, 10, 26, -2, -36, 17, -11,
    -31, 14, -6, 38, -20, 3, 21, -13, 46, -39,
    18, -8, 29, -21, 5,
]

colors = ["black", "blue", "green", "orange", "purple", "grey", "magenta", "cyan", "lime"]
markers = ["o", "v", "^", "<", ">", "s", "*", "h", "H", "D", "d", "P", "X"]


def main():
    n_obs = len(scatter_pct)
    res_phase = np.array(res_phase_e4) * 1e-4
    res_val = np.array(res_val_e2) * 1e-2

    fig = plt.figure(figsize=(6327 / 300, 3192 / 300), dpi=300)
    ax_lc = fig.add_axes([0.3694, 0.2888, 0.6256, 0.7018])
    ax_res = fig.add_axes([0.3694, 0.0548, 0.6256, 0.2340], sharex=ax_lc)

    handles, labels = [], []
    line, = ax_lc.plot(model_phase, model_flux, color="red", lw=3, zorder=4)
    handles.append(line)
    labels.append(model_label)

    for i in range(n_obs):
        c = colors[i % len(colors)]
        m = markers[i % len(markers)]
        # raw points, very faint
        ax_lc.errorbar(raw_phase[i::n_obs], raw_flux[i::n_obs], yerr=scatter_pct[i] / 100,
                       ls="none", marker=m, color=c, ms=7, elinewidth=3, alpha=0.15, zorder=1)
        # binned points of this observation
        eb = ax_lc.errorbar(obs_phase[i::n_obs], obs_flux[i::n_obs], yerr=obs_err[i::n_obs],
                            ls="none", marker=m, color=c, ms=7.5, zorder=2)
        ax_res.plot(res_phase[i::n_obs], res_val[i::n_obs], ls="none", marker=m,
                    color=c, ms=8, alpha=0.35)
        handles.append(eb)
        labels.append(f"{sources[i]}: {scatter_pct[i]:.2f} %")

    bins, = ax_lc.plot(bin_phase, bin_flux, "o", mfc="white", mec="black", ms=14, mew=2, zorder=5)
    ax_res.plot(bin_res_phase, bin_res, "o", mfc="white", mec="black", ms=12, mew=2, zorder=5)
    handles.append(bins)
    labels.append(bin_label)

    ax_lc.set_xlim(-0.0366, 0.0463)
    ax_lc.set_ylim(0.9737, 1.008)
    ax_lc.set_ylabel("Relative Flux", fontsize=14)
    ax_lc.tick_params(labelbottom=False)
    ax_lc.grid(True, axis="y", ls="--")

    ax_res.set_ylim(-0.8, 0.8)
    ax_res.set_yticks([-0.6, -0.4, -0.2, 0.0, 0.2, 0.4, 0.6])
    ax_res.set_xlabel("Phase", fontsize=14)
    ax_res.set_ylabel("Residuals [%]", fontsize=14)
    ax_res.grid(True, axis="y", ls="--", color="0.5")

    fig.legend(handles, labels, loc="upper left", bbox_to_anchor=(30 / 6327, 1 - 1665 / 3192),
               ncol=11, fontsize=10)

    fig.savefig("out.png", dpi=300)


if __name__ == "__main__":
    main()
